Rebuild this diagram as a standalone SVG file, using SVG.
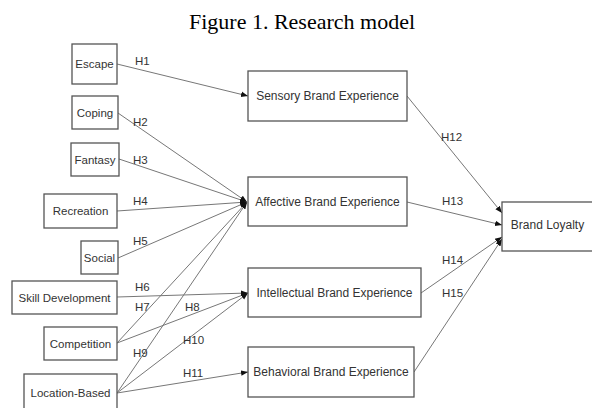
<svg xmlns="http://www.w3.org/2000/svg" width="592" height="408" viewBox="0 0 592 408">
<style>
.box{fill:#fff;stroke:#555;stroke-width:1.3}
.t{font-family:"Liberation Sans",Arial,sans-serif;font-size:11.5px;fill:#333;text-anchor:middle}
.tr{font-family:"Liberation Sans",Arial,sans-serif;font-size:12px;fill:#333;text-anchor:middle}
.lbl{font-family:"Liberation Sans",Arial,sans-serif;font-size:11.5px;fill:#333}
.e{stroke:#777;stroke-width:1;fill:none;marker-end:url(#ah)}
.title{font-family:"Liberation Serif","Times New Roman",serif;font-size:22px;fill:#000;text-anchor:middle}
</style>
<defs>
<marker id="ah" markerUnits="userSpaceOnUse" markerWidth="8" markerHeight="8" refX="7" refY="4" orient="auto">
<path d="M0,1.2 L7,4 L0,6.8 Z" fill="#111"/>
</marker>
</defs>
<rect width="592" height="408" fill="#fff"/>
<text class="title" x="302" y="29">Figure 1. Research model</text>
<g id="connectors">
<line class="e" x1="117" y1="64" x2="248" y2="96"/>
<line class="e" x1="118" y1="113" x2="247" y2="202"/>
<line class="e" x1="119" y1="159" x2="247" y2="202"/>
<line class="e" x1="117" y1="211" x2="247" y2="202"/>
<line class="e" x1="118" y1="258" x2="247" y2="202"/>
<line class="e" x1="117" y1="297" x2="248" y2="293"/>
<line class="e" x1="117" y1="343" x2="247" y2="202"/>
<line class="e" x1="117" y1="343" x2="248" y2="293"/>
<line class="e" x1="117" y1="393" x2="247" y2="202"/>
<line class="e" x1="117" y1="393" x2="248" y2="293"/>
<line class="e" x1="117" y1="393" x2="248" y2="372"/>
<line class="e" x1="407" y1="96" x2="502" y2="213"/>
<line class="e" x1="407" y1="202" x2="502" y2="225"/>
<line class="e" x1="421" y1="293" x2="502" y2="237"/>
<line class="e" x1="414" y1="372" x2="502" y2="239"/>
<text class="lbl" x="135" y="65">H1</text>
<text class="lbl" x="133" y="126">H2</text>
<text class="lbl" x="133" y="164">H3</text>
<text class="lbl" x="133" y="205">H4</text>
<text class="lbl" x="133" y="245">H5</text>
<text class="lbl" x="135" y="291">H6</text>
<text class="lbl" x="135" y="311">H7</text>
<text class="lbl" x="185" y="311">H8</text>
<text class="lbl" x="133" y="357">H9</text>
<text class="lbl" x="183" y="344">H10</text>
<text class="lbl" x="183" y="377">H11</text>
<text class="lbl" x="441" y="141">H12</text>
<text class="lbl" x="442" y="205">H13</text>
<text class="lbl" x="442" y="264">H14</text>
<text class="lbl" x="442" y="297">H15</text>
</g>
<g id="escape"><rect class="box" x="72" y="44" width="45" height="40"/><text class="t" x="94.5" y="68">Escape</text></g>
<g id="coping"><rect class="box" x="72" y="96" width="46" height="33"/><text class="t" x="95" y="116.5">Coping</text></g>
<g id="fantasy"><rect class="box" x="71" y="143" width="48" height="33"/><text class="t" x="95" y="163.5">Fantasy</text></g>
<g id="recreation"><rect class="box" x="44" y="194" width="73" height="34"/><text class="t" x="80.5" y="215">Recreation</text></g>
<g id="social"><rect class="box" x="81" y="241" width="37" height="33"/><text class="t" x="99.5" y="261.5">Social</text></g>
<g id="skill"><rect class="box" x="12" y="281" width="105" height="33"/><text class="t" x="64.5" y="301.5">Skill Development</text></g>
<g id="competition"><rect class="box" x="44" y="327" width="73" height="33"/><text class="t" x="80.5" y="347.5">Competition</text></g>
<g id="location"><rect class="box" x="24" y="374" width="93" height="40"/><text class="t" x="70.5" y="397">Location-Based</text></g>
<g id="sensory"><rect class="box" x="248" y="71" width="159" height="50"/><text class="tr" x="327.5" y="100">Sensory Brand Experience</text></g>
<g id="affective"><rect class="box" x="248" y="177" width="159" height="49"/><text class="tr" x="327.5" y="206">Affective Brand Experience</text></g>
<g id="intellectual"><rect class="box" x="248" y="268" width="173" height="49"/><text class="tr" x="334.5" y="297">Intellectual Brand Experience</text></g>
<g id="behavioral"><rect class="box" x="248" y="347" width="166" height="50"/><text class="tr" x="331" y="376">Behavioral Brand Experience</text></g>
<g id="loyalty"><rect class="box" x="502" y="202" width="92" height="49"/><text class="tr" x="547.5" y="229">Brand Loyalty</text></g>
</svg>
